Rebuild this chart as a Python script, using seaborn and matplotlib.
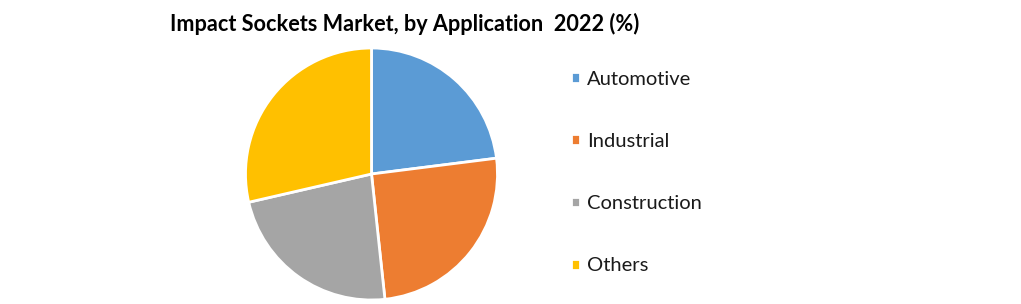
import matplotlib
matplotlib.use("Agg")
import matplotlib.pyplot as plt
import seaborn as sns

categories = ["Automotive", "Industrial", "Construction", "Others"]
shares = [23.0, 25.3, 23.1, 28.6]
colors = ["#5B9BD5", "#ED7D31", "#A5A5A5", "#FFC000"]
title = "Impact Sockets Market, by Application  2022 (%)"

sns.set_theme(style="white")
plt.rcParams["font.family"] = ["Lato", "DejaVu Sans"]

W, H = 1021, 304
fig = plt.figure(figsize=(W / 100, H / 100), dpi=100)
fig.patch.set_facecolor("white")

cx, cy, r = 371.5, 174.0, 126.0
ax = fig.add_axes([(cx - r) / W, (H - cy - r) / H, 2 * r / W, 2 * r / H])
wedges, _ = ax.pie(shares, colors=colors, startangle=90, counterclock=False,
                   wedgeprops=dict(edgecolor="white", linewidth=2))
ax.set_xlim(-1, 1)
ax.set_ylim(-1, 1)
ax.set_aspect("equal")
ax.axis("off")

fig.text(405 / W, 1 - 24 / H, title, ha="center", va="center",
         fontsize=15.6, fontweight="bold", color="black")

leg = fig.legend(wedges, categories, loc="center left",
                 bbox_to_anchor=(571 / W, 1 - 172.5 / H), frameon=False,
                 fontsize=14.5, handlelength=0.45, handleheight=0.45,
                 handletextpad=0.35, labelspacing=2.25, borderaxespad=0,
                 borderpad=0)
for t in leg.get_texts():
    t.set_color("#1a1a1a")

fig.savefig("out.png", dpi=100, facecolor="white")
